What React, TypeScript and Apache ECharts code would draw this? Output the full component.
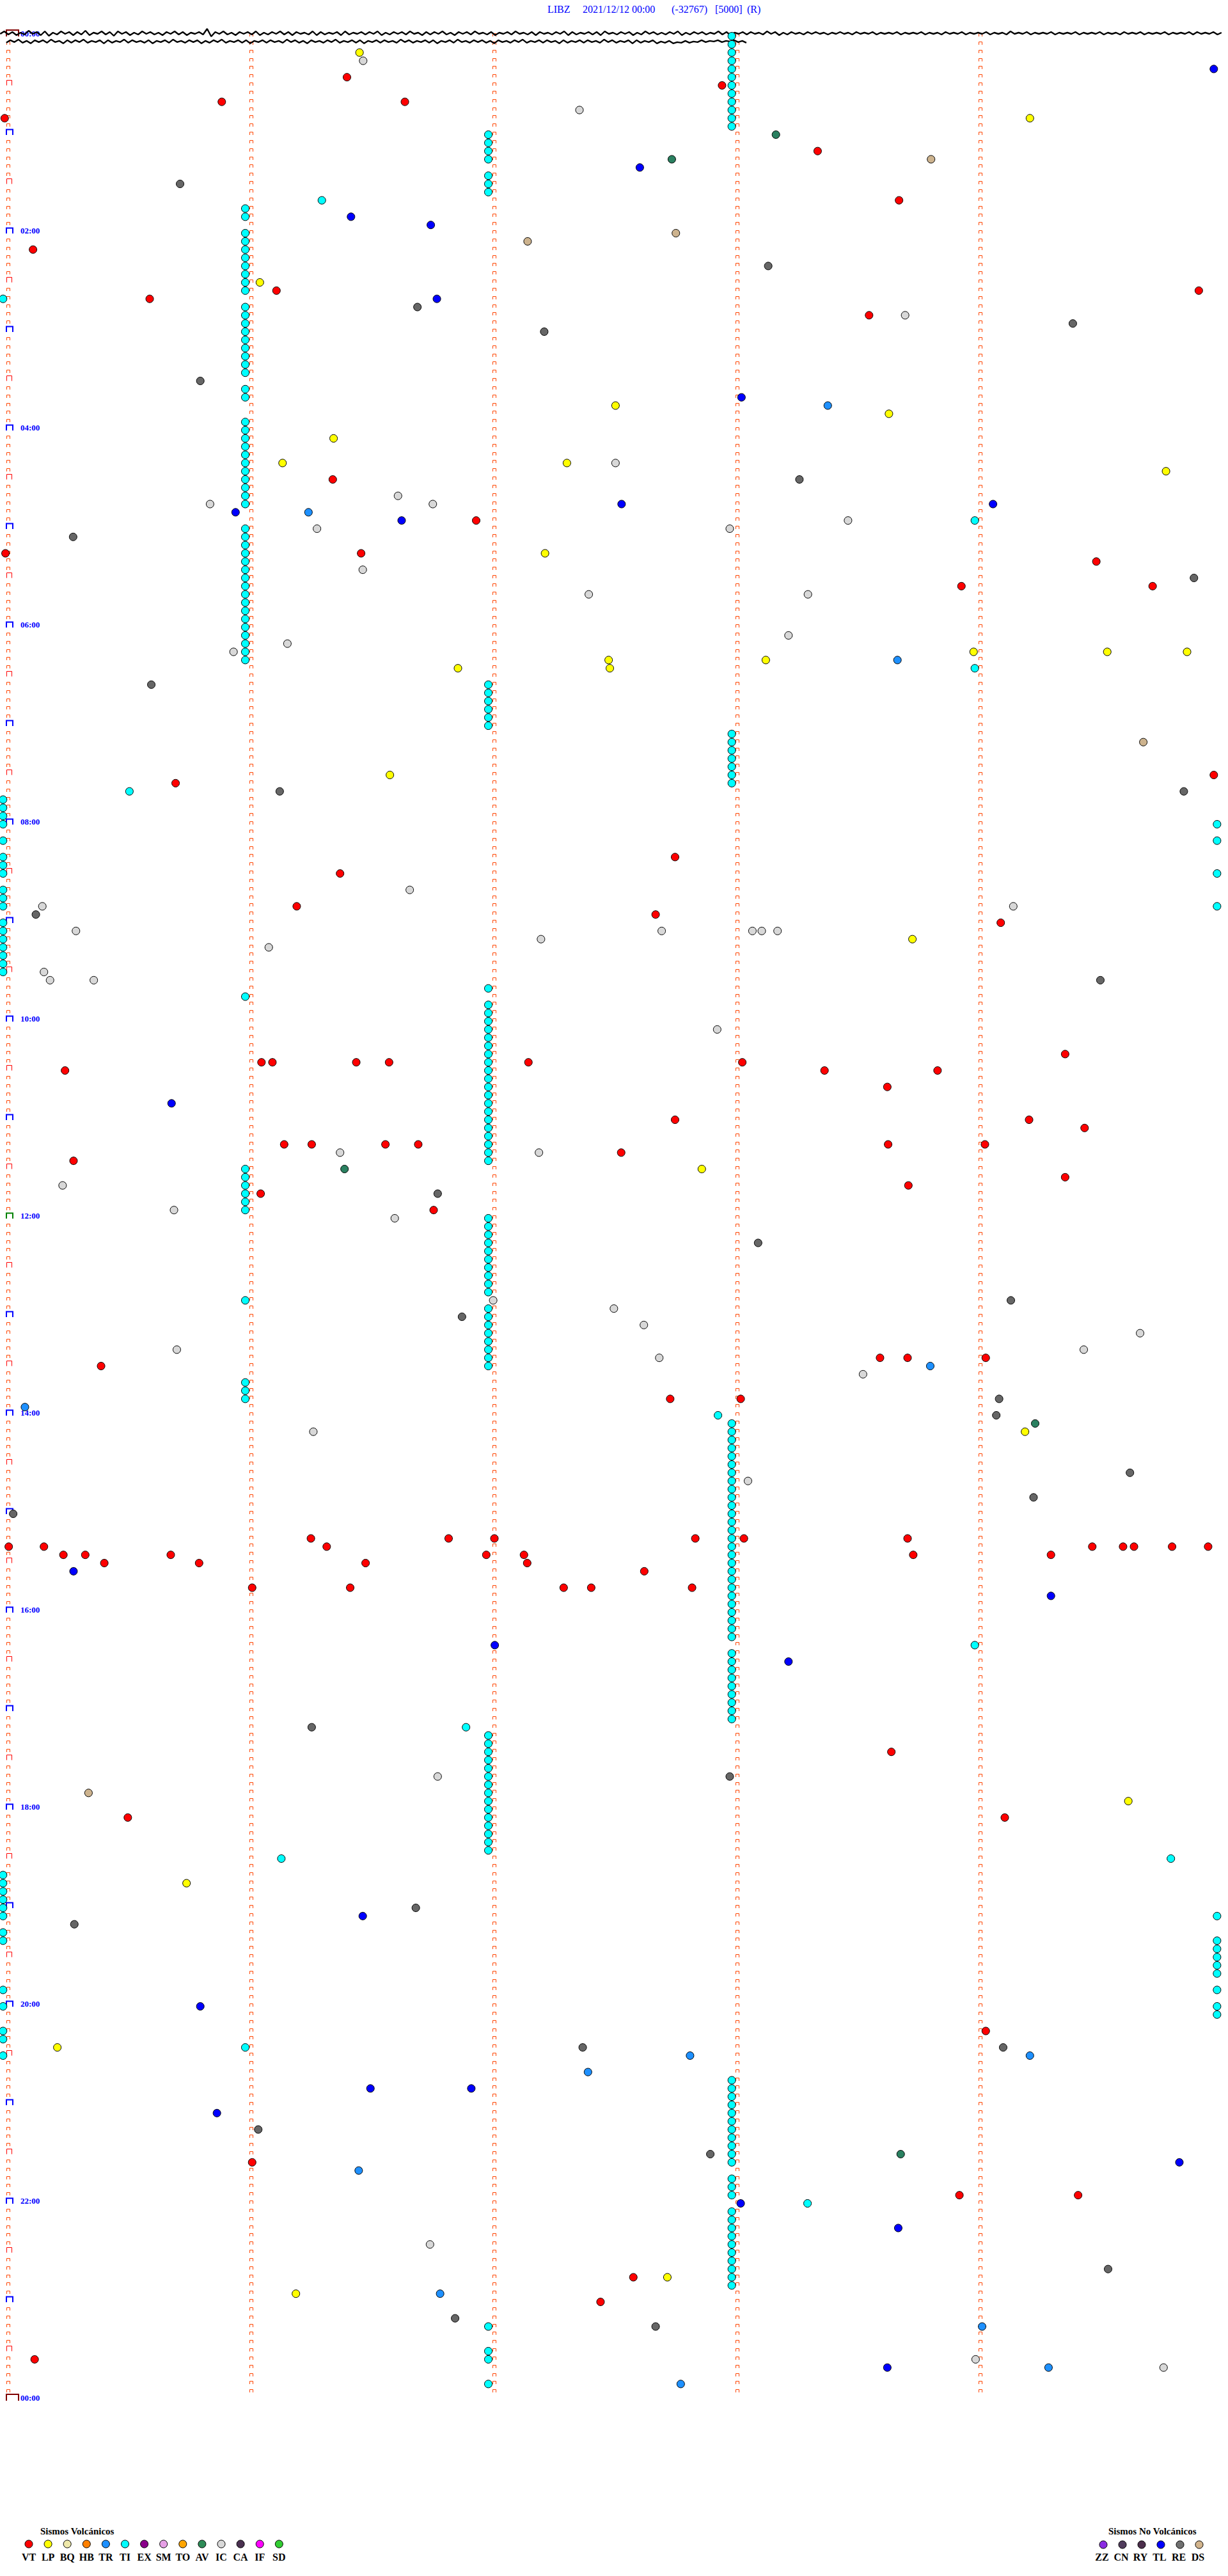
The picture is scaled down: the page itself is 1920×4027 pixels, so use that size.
import React, { useEffect, useRef } from "react";
import * as echarts from "echarts";

// ---- layout constants (pixel geometry of the helicorder) ----
const W = 1920;
const H = 4027;
const ROW_PX = 3696 / 288; // one 5-minute row
const SEC_PX = 380 / 60; // one second along the row
const X_MIN = -13 / SEC_PX;
const X_MAX = (W - 13) / SEC_PX;
const Y_MIN = -52 / ROW_PX;
const Y_MAX = (H - 52) / ROW_PX;
const SERIF = '"Liberation Serif", "Times New Roman", serif';

// ---- header ----
const titleParts = ["LIBZ", "2021/12/12 00:00", "(-32767)", "[5000]", "(R)"];
const titleX = [856, 911, 1050, 1118, 1168];

// ---- time labels (every 2 h = 24 rows of 5 min) ----
const hourLabels = ["00:00", "02:00", "04:00", "06:00", "08:00", "10:00", "12:00", "14:00", "16:00", "18:00", "20:00", "22:00", "00:00"];
const hourLabelRows = [0, 24, 48, 72, 96, 120, 144, 168, 192, 216, 240, 264, 288];
const minuteColumns = [0, 60, 120, 180, 240]; // seconds within row

// ---- legend ----
const volcanicCodes = ["VT", "LP", "BQ", "HB", "TR", "TI", "EX", "SM", "TO", "AV", "IC", "CA", "IF", "SD"];
const volcanicColors = ["#FF0000", "#FFFF00", "#EEE8AA", "#FF8000", "#1E90FF", "#00FFFF", "#8B008B", "#E6A0E6", "#FFA500", "#2E8B57", "#D8D8D8", "#4A3050", "#FF00FF", "#32CD32"];
const nonVolcanicCodes = ["ZZ", "CN", "RY", "TL", "RE", "DS"];
const nonVolcanicColors = ["#8A2BE2", "#503C5C", "#4B2E4B", "#0000FF", "#707070", "#D2B48C"];

// ---- seismic trace samples (pixel offsets, + = down) ----
const trace0Start = -2.0;
const trace0End = 299.5;
const trace0 = [
  1, -3, 2, -2, 3, -1, 2, -4, 1, -2, 3, -3, 4, -1, 2, -3, 1, -2, 3, -2,
  2, -4, 3, -1, 1, -3, 2, -2, 4, -3, 1, -2, 3, -1, 2, -3, 1, -2, 2, -1,
  3, -2, 1, -3, 2, -2, 3, -1, 1, -2, 2, -7, 5, -2, 1, -3, 2, -1, 3, -2,
  1, -2, 2, -3, 3, -1, 2, -2, 1, -3, 2, -2, 3, -2, 1, -1, 2, -3, 3, -2,
  2, -1, 1, -2, 3, -3, 2, -1, 1, -2, 2, -2, 1, -3, 3, -1, 2, -2, 1, -2,
  2, -3, 1, -1, 3, -2, 2, -2, 1, -3, 2, -1, 3, -2, 1, -2, 2, -3, 1, -1,
  2, -2, 3, -1, 1, -2, 2, -3, 1, -1, 2, -2, 3, -2, 1, -1, 2, -2, 1, -3,
  3, -2, 2, -1, 1, -2, 2, -2, 3, -3, 1, -1, 2, -2, 1, -2, 3, -1, 2, -3,
  1, -2, 2, -1, 2, -2, 1, -3, 3, -1, 2, -2, 1, -2, 2, -1, 1, -3, 2, -2,
  3, -1, 1, -2, 2, -2, 1, -1, 2, -3, 1, -2, 3, -1, 2, -2, 1, -1, 2, -2,
  1, -2, 1, -1, 2, -1, 1, -2, 1, -1, 2, -2, 1, -1, 1, -2, 2, -1, 1, -1,
  1, -2, 2, -1, 1, -1, 1, -2, 2, -1, 1, -1, 2, -2, 1, -1, 1, -2, 2, -1,
  1, -1, 1, -2, 2, -1, 1, -1, 2, -3, 1, -1, 1, -2, 2, -1, 1, -1, 1, -2,
  2, -1, 1, -1, 1, -2, 2, -1, 1, -1, 1, -2, 2, -1, 1, -1, 2, -2, 1, -1,
  1, -2, 2, -1, 1, -1, 1, -2, 2, -1, 1, -1, 1, -2, 2, -2, 1, -1, 1, -2,
  2, -1,
];
const trace1Start = -0.5;
const trace1End = 182.2;
const trace1 = [
  2, -2, 1, -3, 2, -1, 3, -2, 1, -2, 2, -3, 1, -1, 3, -2, 2, -2, 1, -3,
  2, -1, 1, -2, 3, -2, 2, -1, 1, -3, 2, -2, 1, -1, 2, -2, 3, -1, 1, -2,
  2, -3, 1, -1, 2, -2, 1, -2, 3, -1, 2, -2, 1, -3, 2, -1, 1, -2, 2, -2,
  3, -1, 1, -2, 2, -2, 1, -1, 2, -3, 1, -2, 2, -1, 3, -2, 1, -1, 2, -2,
  1, -3, 2, -1, 1, -2, 2, -2, 3, -1, 1, -2, 2, -2, 1, -1, 2, -3, 1, -2,
  2, -1, 1, -2, 2, -2, 3, -1, 1, -2, 2, -3, 1, -1, 2, -2, 1, -2, 2, -1,
  3, -2, 1, -1, 2, -2, 1, -3, 2, -1, 1, -2, 2, -2, 1, -1, 3, -2, 2, -1,
  1, -2, 2, -2, 1, -1, 2, -3, 1, -2, 2, -1, 1, -2, 3, -2, 2, -1, 1, -2,
  3, 0, 2, -1, 3, 1, 2, -1, 2, 0, 1, -2, 1, -1, 0, -2, 1, -1, 0, -2,
  1, -1, 2,
];

// ---- events: [seconds within 5-min row, row index] ----
const vtEvents = [
  [83.6, 5], [176.2, 6], [52.7, 8], [97.9, 8], [-0.9, 10], [199.8, 14], [219.9, 20], [6.1, 26], [66.2, 31], [293.9, 31],
  [34.9, 32], [212.5, 34], [80.1, 54], [115.5, 59], [-0.7, 63], [87.1, 63], [268.6, 64], [235.3, 67], [282.5, 67],
  [297.6, 90], [41.3, 91], [164.6, 100], [81.9, 102], [71.2, 106], [159.8, 107], [245.0, 108], [260.9, 124],
  [62.5, 125], [65.2, 125], [85.9, 125], [94.0, 125], [128.4, 125], [181.2, 125], [14.0, 126], [201.5, 126], [229.4, 126],
  [217.0, 128], [164.6, 132], [252.0, 132], [265.7, 133], [68.1, 135], [74.9, 135], [93.1, 135], [101.2, 135], [217.2, 135],
  [241.1, 135], [151.3, 136], [16.1, 137], [260.9, 139], [222.2, 140], [62.3, 141], [105.0, 143], [215.2, 161], [222.0, 161],
  [241.3, 161], [22.9, 162], [163.4, 166], [180.8, 166],
  [74.7, 183], [108.7, 183], [120.0, 183], [169.6, 183], [181.6, 183], [222.0, 183],
  [0.1, 184], [8.8, 184], [78.6, 184], [267.6, 184], [275.2, 184], [277.9, 184], [287.3, 184], [296.2, 184],
  [13.6, 185], [19.0, 185], [40.1, 185], [118.0, 185], [127.3, 185], [223.4, 185], [257.4, 185],
  [23.7, 186], [47.1, 186], [88.2, 186], [128.1, 186], [157.0, 187],
  [60.2, 189], [84.4, 189], [137.1, 189], [143.9, 189], [168.8, 189], [218.0, 209],
  [29.5, 217], [246.0, 217], [241.3, 243], [60.2, 259], [234.8, 263], [264.1, 263], [154.3, 273], [146.2, 276], [6.5, 283],
];
const lpEvents = [
  [86.7, 2], [252.2, 10], [62.1, 30], [149.9, 45], [217.4, 46], [80.3, 49], [67.7, 52], [137.9, 52], [285.8, 53], [132.5, 63],
  [238.3, 75], [271.3, 75], [291.0, 75], [148.2, 76], [187.0, 76], [111.0, 77], [148.5, 77], [94.2, 90], [223.2, 110],
  [171.2, 138], [251.0, 170], [276.5, 215], [44.0, 225], [12.1, 245], [162.7, 273], [71.0, 275],
];
const icEvents = [
  [87.6, 3], [141.0, 9], [221.4, 34], [149.9, 52], [96.2, 56], [49.8, 57], [104.8, 57], [207.3, 59], [76.2, 60], [178.1, 60],
  [87.5, 65], [143.3, 68], [197.4, 68], [192.6, 73], [68.9, 74], [55.6, 75], [99.1, 104], [8.4, 106], [248.1, 106], [16.7, 109],
  [161.3, 109], [183.7, 109], [186.0, 109], [189.9, 109], [131.5, 110], [64.3, 111], [8.8, 114], [10.3, 115], [21.1, 115],
  [175.0, 121], [81.9, 136], [131.0, 136], [13.4, 140], [40.9, 143], [95.4, 144], [119.7, 154], [149.5, 155], [156.9, 157],
  [279.4, 158], [41.6, 160], [265.5, 160], [160.7, 161], [211.0, 163], [75.3, 170], [182.6, 176], [106.0, 212], [104.1, 269],
  [238.8, 283], [285.2, 284],
];
const tlEvents = [
  [297.6, 4], [155.9, 16], [84.6, 22], [104.3, 23], [105.8, 32], [181.0, 44], [151.4, 57], [243.1, 57], [56.1, 58], [97.1, 59],
  [40.3, 130], [16.1, 187], [257.4, 190], [120.1, 196], [192.6, 198], [87.5, 229], [47.4, 240], [89.4, 250], [114.3, 250],
  [51.5, 253], [289.1, 259], [180.8, 264], [219.7, 267], [217.0, 284],
];
const reEvents = [
  [42.4, 18], [187.6, 28], [101.0, 33], [262.8, 35], [132.3, 36], [47.4, 42], [195.3, 54], [16.0, 61], [292.7, 66], [35.3, 79],
  [67.0, 92], [290.2, 92], [6.8, 107], [269.6, 115], [106.0, 141], [185.1, 147], [247.5, 154], [112.0, 156], [244.6, 166],
  [243.9, 168], [276.9, 175], [253.1, 178], [1.2, 180], [74.9, 206], [178.1, 212], [100.6, 228], [16.3, 230], [141.8, 245],
  [245.6, 245], [61.7, 255], [173.3, 258], [271.5, 272], [110.3, 278], [159.8, 279],
];
const dsEvents = [[227.8, 15], [164.8, 24], [128.2, 25], [280.2, 86], [19.8, 214]];
const avEvents = [[189.5, 12], [163.8, 15], [83.0, 138], [253.5, 169], [220.3, 258]];
const trEvents = [
  [202.3, 45], [74.1, 58], [219.5, 76], [227.6, 162], [4.1, 167], [168.3, 246], [252.2, 246], [143.1, 248], [86.5, 260],
  [106.6, 275], [240.4, 279], [256.8, 284], [166.0, 286],
];
// TI events: rows at the recurring positions near each minute mark
const tiNear179Rows = [
  0, 1, 2, 3, 4, 5, 6, 7, 8, 9, 10, 11, 85, 86, 87, 88, 89, 90, 91,
  169, 170, 171, 172, 173, 174, 175, 176, 177, 178, 179, 180, 181, 182, 183, 184, 185, 186, 187, 188, 189, 190, 191, 192, 193, 194, 195,
  197, 198, 199, 200, 201, 202, 203, 204, 205,
  249, 250, 251, 252, 253, 254, 255, 256, 257, 258, 259, 261, 262, 263, 265, 266, 267, 268, 269, 270, 271, 272, 273, 274,
];
const tiNear119Rows = [
  12, 13, 14, 15, 17, 18, 19, 79, 80, 81, 82, 83, 84, 116,
  118, 119, 120, 121, 122, 123, 124, 125, 126, 127, 128, 129, 130, 131, 132, 133, 134, 135, 136, 137,
  144, 145, 146, 147, 148, 149, 150, 151, 152, 153, 155, 156, 157, 158, 159, 160, 161, 162,
  207, 208, 209, 210, 211, 212, 213, 214, 215, 216, 217, 218, 219, 220, 221, 279, 282, 283, 286,
];
const tiNear59Rows = [
  21, 22, 24, 25, 26, 27, 28, 29, 30, 31, 33, 34, 35, 36, 37, 38, 39, 40, 41, 43, 44,
  47, 48, 49, 50, 51, 52, 53, 54, 55, 56, 57, 60, 61, 62, 63, 64, 65, 66, 67, 68, 69, 70, 71, 72, 73, 74, 75, 76,
  117, 138, 139, 140, 141, 142, 143, 154, 164, 165, 166, 245,
];
const tiLeftRows = [
  32, 93, 94, 95, 96, 98, 100, 101, 102, 104, 105, 106, 108, 109, 110, 111, 112, 113, 114,
  224, 225, 226, 227, 228, 229, 231, 232, 238, 240, 243, 244, 246,
];
const tiRightRows = [96, 98, 102, 106, 229, 232, 233, 234, 235, 236, 238, 240, 241];
const tiOtherEvents = [
  [77.4, 20], [238.6, 59], [238.6, 77], [29.9, 92], [175.2, 168], [238.6, 196], [113.0, 206], [67.4, 222], [287.0, 222], [197.3, 264],
];

const tiEvents = [
  ...tiNear179Rows.map((r) => [178.6, r]),
  ...tiNear119Rows.map((r) => [118.5, r]),
  ...tiNear59Rows.map((r) => [58.5, r]),
  ...tiLeftRows.map((r) => [-1.3, r]),
  ...tiRightRows.map((r) => [298.4, r]),
  ...tiOtherEvents,
];

function eventSeries(name: string, color: string, data: number[][]) {
  return {
    type: "scatter",
    name,
    data,
    symbol: "circle",
    symbolSize: 12,
    symbolOffset: [0, 4.5],
    itemStyle: { color, borderColor: "#000000", borderWidth: 1, opacity: 1 },
    silent: true,
    z: 5,
  };
}

function buildTicks() {
  // kind: 0 small orange, 1 half hour, 2 hour, 3 noon, 4 day start/end
  const out: number[][] = [];
  minuteColumns.forEach((c, ci) => {
    for (let r = 0; r <= 288; r++) {
      let kind = 0;
      if (ci === 0) {
        if (r === 0 || r === 288) kind = 4;
        else if (r === 144) kind = 3;
        else if (r % 12 === 0) kind = 2;
        else if (r % 6 === 0) kind = 1;
      } else if (r === 288) continue;
      out.push([c, r, kind]);
    }
  });
  return out;
}

function traceData(vals: number[], start: number, end: number, row: number) {
  const step = (end - start) / (vals.length - 1);
  return vals.map((v, i) => [start + i * step, row + v / ROW_PX]);
}

export default function App() {
  const ref = useRef<HTMLDivElement>(null);

  useEffect(() => {
    if (!ref.current) return;
    const chart = echarts.init(ref.current, undefined, { renderer: "svg" });

    const graphic: any[] = [];
    titleParts.forEach((t, i) => {
      graphic.push({
        type: "text",
        x: titleX[i],
        y: 14,
        silent: true,
        style: { text: t, fill: "#0000FF", fontSize: 16, fontFamily: SERIF, verticalAlign: "middle", align: "left" },
      });
    });
    // legends
    graphic.push({
      type: "text",
      x: 63,
      y: 3957,
      style: { text: "Sismos Volcánicos", fill: "#000", fontSize: 15, fontWeight: "bold", fontFamily: SERIF, verticalAlign: "middle", align: "left" },
    });
    volcanicCodes.forEach((c, i) => {
      const cx = 45 + i * 30.1;
      graphic.push({ type: "circle", shape: { cx, cy: 3977, r: 6 }, style: { fill: volcanicColors[i], stroke: "#000", lineWidth: 1 } });
      graphic.push({
        type: "text",
        x: cx,
        y: 3997,
        style: { text: c, fill: "#000", fontSize: 16, fontWeight: "bold", fontFamily: SERIF, verticalAlign: "middle", align: "center" },
      });
    });
    graphic.push({
      type: "text",
      x: 1733,
      y: 3957,
      style: { text: "Sismos No Volcánicos", fill: "#000", fontSize: 15, fontWeight: "bold", fontFamily: SERIF, verticalAlign: "middle", align: "left" },
    });
    nonVolcanicCodes.forEach((c, i) => {
      const cx = 1725 + i * 30;
      graphic.push({ type: "circle", shape: { cx, cy: 3978, r: 6 }, style: { fill: nonVolcanicColors[i], stroke: "#000", lineWidth: 1 } });
      graphic.push({
        type: "text",
        x: cx - 2,
        y: 3997,
        style: { text: c, fill: "#000", fontSize: 16, fontWeight: "bold", fontFamily: SERIF, verticalAlign: "middle", align: "center" },
      });
    });

    const tickSeries = {
      type: "custom",
      data: buildTicks(),
      silent: true,
      z: 2,
      renderItem: (params: any, api: any) => {
        const p = api.coord([api.value(0), api.value(1)]);
        const kind = api.value(2);
        const bx = Math.round(p[0]);
        const by = Math.round(p[1]);
        let x0 = bx - 2.5, x1 = bx + 2.5, y0 = by + 0.5, y1 = by + 5;
        let stroke = "#FF4500";
        let lw = 1;
        if (kind === 1) {
          x0 = bx - 2.5; x1 = bx + 5.5; y0 = by - 3.5; y1 = by + 4.5; stroke = "#FF0000";
        } else if (kind === 2 || kind === 3) {
          x0 = bx - 3; x1 = bx + 7; y0 = by - 3.5; y1 = by + 5; stroke = kind === 2 ? "#0000FF" : "#008000"; lw = 2;
        } else if (kind === 4) {
          x0 = bx - 3; x1 = bx + 16; y0 = by - 5; y1 = by + 5; stroke = "#800000"; lw = 2;
        }
        return {
          type: "polyline",
          shape: { points: [[x0, y1], [x0, y0], [x1, y0], [x1, y1]] },
          style: { stroke, fill: "none", lineWidth: lw },
        };
      },
    };

    const labelSeries = {
      type: "custom",
      data: hourLabelRows.map((r) => [0, r]),
      silent: true,
      z: 3,
      renderItem: (params: any, api: any) => {
        const p = api.coord([api.value(0), api.value(1)]);
        return {
          type: "text",
          x: p[0] + 19,
          y: p[1],
          style: {
            text: hourLabels[params.dataIndex],
            fill: "#0000FF",
            fontSize: 13,
            fontWeight: "bold",
            fontFamily: SERIF,
            verticalAlign: "middle",
            align: "left",
          },
        };
      },
    };

    const traceStyle = { color: "#000000", width: 2.4 };
    const option: any = {
      animation: false,
      backgroundColor: "#FFFFFF",
      grid: { left: 0, right: 0, top: 0, bottom: 0, containLabel: false },
      xAxis: { type: "value", min: X_MIN, max: X_MAX, show: false },
      yAxis: { type: "value", min: Y_MIN, max: Y_MAX, inverse: true, show: false },
      graphic,
      series: [
        tickSeries,
        {
          type: "line",
          data: traceData(trace0, trace0Start, trace0End, 0),
          showSymbol: false,
          lineStyle: traceStyle,
          silent: true,
          z: 3,
        },
        {
          type: "line",
          data: traceData(trace1, trace1Start, trace1End, 1),
          showSymbol: false,
          lineStyle: traceStyle,
          silent: true,
          z: 3,
        },
        labelSeries,
        eventSeries("RE", "#666666", reEvents),
        eventSeries("IC", "#D8D8D8", icEvents),
        eventSeries("DS", "#CDB38E", dsEvents),
        eventSeries("AV", "#2A8060", avEvents),
        eventSeries("TR", "#1E90FF", trEvents),
        eventSeries("TL", "#0000FF", tlEvents),
        eventSeries("LP", "#FFFF00", lpEvents),
        eventSeries("VT", "#FF0000", vtEvents),
        eventSeries("TI", "#00FFFF", tiEvents),
      ],
    };
    chart.setOption(option);
    return () => chart.dispose();
  }, []);

  return <div ref={ref} style={{ position: "absolute", left: 0, top: 0, width: W, height: H }} />;
}
